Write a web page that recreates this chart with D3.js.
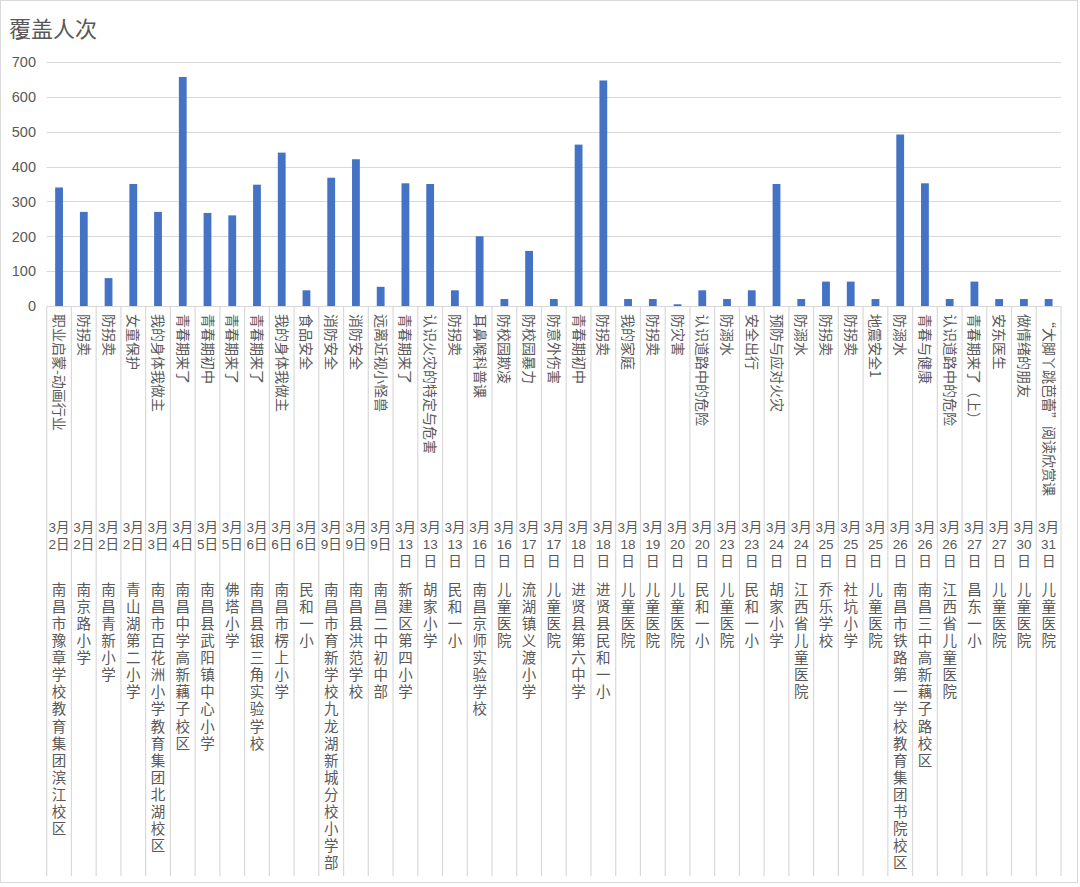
<!DOCTYPE html>
<html>
<head>
<meta charset="utf-8">
<script src="https://cdn.jsdelivr.net/npm/d3@7"></script>
<style>
  html, body { margin: 0; padding: 0; background: #fff; }
  svg { display: block; }
</style>
</head>
<body>
<svg width="1080" height="887"></svg>
<script>
const topics = [
  '职业启蒙-动画行业', '防拐卖', '防拐卖', '女童保护', '我的身体我做主', '青春期来了', '青春期初中',
  '青春期来了', '青春期来了', '我的身体我做主', '食品安全', '消防安全', '消防安全', '远离近视小怪兽',
  '青春期来了', '认识火灾的特定与危害', '防拐卖', '耳鼻喉科普课', '防校园欺凌', '防校园暴力', '防意外伤害',
  '青春期初中', '防拐卖', '我的家庭', '防拐卖', '防灾害', '认识道路中的危险', '防溺水', '安全出行',
  '预防与应对火灾', '防溺水', '防拐卖', '防拐卖', '地震安全1', '防溺水', '青春与健康', '认识道路中的危险',
  '青春期来了（上）', '安东医生', '做情绪的朋友', '“大脚丫跳芭蕾”阅读欣赏课',
];
const dates = [
  '3月2日', '3月2日', '3月2日', '3月2日', '3月3日', '3月4日', '3月5日', '3月5日', '3月6日', '3月6日',
  '3月6日', '3月9日', '3月9日', '3月9日', '3月13日', '3月13日', '3月13日', '3月16日', '3月16日', '3月17日',
  '3月17日', '3月18日', '3月18日', '3月18日', '3月19日', '3月20日', '3月20日', '3月23日', '3月23日', '3月24日',
  '3月24日', '3月25日', '3月25日', '3月25日', '3月26日', '3月26日', '3月26日', '3月27日', '3月27日', '3月30日',
  '3月31日',
];
const schools = [
  '南昌市豫章学校教育集团滨江校区', '南京路小学', '南昌青新小学', '青山湖第二小学', '南昌市百花洲小学教育集团北湖校区',
  '南昌中学高新藕子校区', '南昌县武阳镇中心小学', '佛塔小学', '南昌县银三角实验学校', '南昌市楞上小学', '民和一小',
  '南昌市育新学校九龙湖新城分校小学部', '南昌县洪范学校', '南昌二中初中部', '新建区第四小学', '胡家小学', '民和一小',
  '南昌京师实验学校', '儿童医院', '流湖镇义渡小学', '儿童医院', '进贤县第六中学', '进贤县民和一小', '儿童医院',
  '儿童医院', '儿童医院', '民和一小', '儿童医院', '民和一小', '胡家小学', '江西省儿童医院', '乔乐学校', '社坑小学',
  '儿童医院', '南昌市铁路第一学校教育集团书院校区', '南昌三中高新藕子路校区', '江西省儿童医院', '昌东一小',
  '儿童医院', '儿童医院', '儿童医院',
];
const counts = [
  340, 270, 80, 350, 270, 657, 267, 260, 348, 440, 45, 368, 421, 55, 352, 350, 45, 200, 20, 158, 20,
  463, 647, 20, 20, 5, 45, 20, 45, 350, 20, 70, 70, 20, 492, 352, 20, 70, 20, 20, 20,
];
const yTicks = [0, 100, 200, 300, 400, 500, 600, 700];

const svg = d3.select('svg');
const grey = '#595959';
const lineColor = '#d9d9d9';
const cjk = '"Noto Sans CJK SC", "Noto Sans", sans-serif';
const latin = '"Liberation Sans", Arial, "Noto Sans CJK SC", sans-serif';

const left = 46.7;
const right = 1061;
const labelBottom = 876;

const x = d3.scaleBand()
  .domain(d3.range(counts.length))
  .range([left, right]);

const y = d3.scaleLinear()
  .domain([0, 700])
  .range([306, 62]);

const cx = i => x(i) + x.bandwidth() / 2;

// outer frame
svg.append('rect')
  .attr('x', 0.5).attr('y', 0.5)
  .attr('width', 1077).attr('height', 882)
  .attr('fill', '#fff')
  .attr('stroke', lineColor);

svg.append('text')
  .attr('x', 9)
  .attr('y', 37)
  .attr('fill', grey)
  .style('font-family', cjk)
  .style('font-size', '22px')
  .text('覆盖人次');

// grid + y labels
svg.append('g')
  .selectAll('line')
  .data(yTicks)
  .enter().append('line')
  .attr('x1', left).attr('x2', right)
  .attr('y1', d => Math.round(y(d)) + 0.5)
  .attr('y2', d => Math.round(y(d)) + 0.5)
  .attr('stroke', lineColor)
  .attr('stroke-width', 1.2);

svg.append('g')
  .selectAll('text')
  .data(yTicks)
  .enter().append('text')
  .attr('x', 36)
  .attr('y', d => y(d))
  .attr('dy', '0.36em')
  .attr('text-anchor', 'end')
  .attr('fill', grey)
  .style('font-family', latin)
  .style('font-size', '14.5px')
  .text(d => d);

// category separators
svg.append('g')
  .selectAll('line')
  .data(d3.range(counts.length + 1))
  .enter().append('line')
  .attr('x1', i => left + i * x.step())
  .attr('x2', i => left + i * x.step())
  .attr('y1', y(0))
  .attr('y2', labelBottom)
  .attr('stroke', lineColor)
  .attr('stroke-width', 1.2);

// bars
const barW = 7.8;
svg.append('g')
  .selectAll('rect')
  .data(counts)
  .enter().append('rect')
  .attr('x', (d, i) => cx(i) - barW / 2)
  .attr('y', d => y(d))
  .attr('width', barW)
  .attr('height', d => y(0) - y(d))
  .attr('fill', '#4472C4');

// level 1: topics, rotated
svg.append('g')
  .selectAll('text')
  .data(topics)
  .enter().append('text')
  .attr('transform', (d, i) => `translate(${cx(i) + 1},314) rotate(90)`)
  .attr('dominant-baseline', 'central')
  .attr('fill', grey)
  .style('font-family', cjk)
  .style('font-size', '14px')
  .text(d => d);

// level 2: dates, wrapped to cell width
const dateLines = (d) => {
  const rest = d.slice(2);
  return rest.length > 2 ? [d.slice(0, 2), rest.slice(0, -1), rest.slice(-1)] : [d.slice(0, 2), rest];
};
svg.append('g')
  .selectAll('text')
  .data(dates)
  .enter().append('text')
  .attr('text-anchor', 'middle')
  .attr('fill', grey)
  .style('font-family', latin)
  .style('font-size', '13.5px')
  .each(function (d, i) {
    d3.select(this).selectAll('tspan')
      .data(dateLines(d))
      .enter().append('tspan')
      .attr('x', cx(i))
      .attr('y', (t, j) => 532 + j * 17)
      .text(t => t);
  });

// level 3: schools, vertical upright text
svg.append('g')
  .selectAll('text')
  .data(schools)
  .enter().append('text')
  .attr('x', (d, i) => cx(i))
  .attr('y', 582)
  .attr('fill', grey)
  .style('font-family', cjk)
  .style('font-size', '14.5px')
  .style('writing-mode', 'vertical-rl')
  .style('text-orientation', 'upright')
  .style('letter-spacing', '2.6px')
  .text(d => d);
</script>
</body>
</html>
